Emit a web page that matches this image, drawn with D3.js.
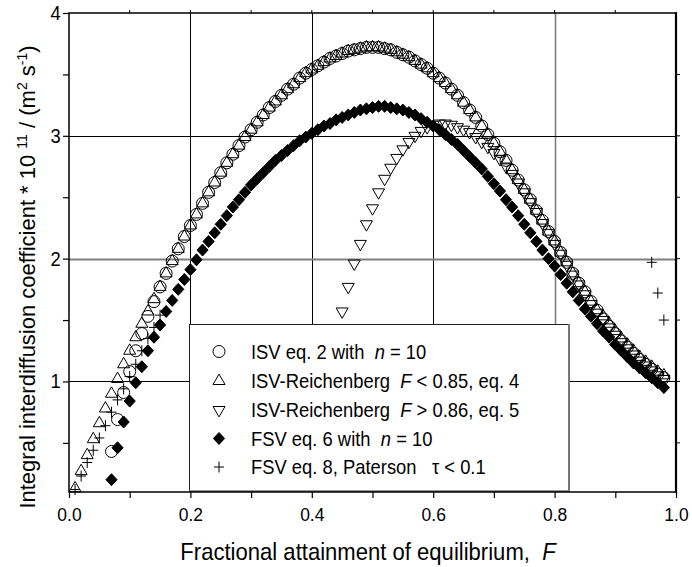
<!DOCTYPE html>
<html><head><meta charset="utf-8">
<script src="https://cdn.jsdelivr.net/npm/d3@7"></script>
<style>
body{margin:0;background:#fff}
svg{display:block}
text{font-family:"Liberation Sans",Arial,Helvetica,sans-serif;fill:#000;white-space:pre}
</style>
</head><body><svg id="c" width="692" height="567"></svg>
<script>
// ---------------- DATA ----------------
const F_GRID = [0.01,0.02,0.03,0.04,0.05,0.06,0.07,0.08,0.09,0.10,
 0.11,0.12,0.13,0.14,0.15,0.16,0.17,0.18,0.19,0.20,
 0.21,0.22,0.23,0.24,0.25,0.26,0.27,0.28,0.29,0.30,
 0.31,0.32,0.33,0.34,0.35,0.36,0.37,0.38,0.39,0.40,
 0.41,0.42,0.43,0.44,0.45,0.46,0.47,0.48,0.49,0.50,
 0.51,0.52,0.53,0.54,0.55,0.56,0.57,0.58,0.59,0.60,
 0.61,0.62,0.63,0.64,0.65,0.66,0.67,0.68,0.69,0.70,
 0.71,0.72,0.73,0.74,0.75,0.76,0.77,0.78,0.79,0.80,
 0.81,0.82,0.83,0.84,0.85,0.86,0.87,0.88,0.89,0.90,
 0.91,0.92,0.93,0.94,0.95,0.96,0.97,0.98];

// ISV eq. 2 with n = 10 (open circles), F = 0.07 .. 0.98
const isvEq2Start = 0.07;
const isvEq2 = [0.43,0.69,0.91,1.08,1.25,1.39,1.53,1.65,1.77,1.88,
 1.98,2.08,2.18,2.27,2.36,2.45,2.54,2.62,2.70,2.78,
 2.85,2.92,2.99,3.05,3.11,3.17,3.23,3.28,3.33,3.38,
 3.42,3.47,3.51,3.54,3.57,3.60,3.63,3.65,3.67,3.69,
 3.70,3.71,3.72,3.72,3.72,3.71,3.70,3.68,3.66,3.64,
 3.61,3.58,3.55,3.51,3.47,3.43,3.38,3.33,3.27,3.21,
 3.15,3.08,3.01,2.94,2.87,2.80,2.72,2.64,2.56,2.48,
 2.39,2.31,2.22,2.14,2.05,1.97,1.88,1.80,1.73,1.65,
 1.58,1.51,1.45,1.39,1.33,1.28,1.23,1.18,1.14,1.10,
 1.06,1.03];

// ISV-Reichenberg F < 0.85, eq. 4 (up triangles), F = 0.01 .. 0.98
const reichLowStart = 0.01;
const reichLow = [0.13,0.27,0.40,0.53,0.66,0.78,0.90,1.02,1.14,1.25,
 1.36,1.47,1.57,1.67,1.77,1.88,1.98,2.08,2.18,2.27,
 2.36,2.45,2.54,2.62,2.70,2.78,2.85,2.92,2.99,3.05,
 3.11,3.17,3.23,3.28,3.33,3.38,3.42,3.47,3.51,3.54,
 3.57,3.60,3.63,3.65,3.67,3.69,3.70,3.71,3.72,3.72,
 3.72,3.71,3.70,3.68,3.66,3.64,3.61,3.58,3.55,3.51,
 3.47,3.43,3.38,3.33,3.27,3.21,3.15,3.08,3.01,2.94,
 2.87,2.80,2.72,2.64,2.56,2.48,2.39,2.31,2.22,2.14,
 2.05,1.97,1.88,1.80,1.73,1.65,1.58,1.53,1.47,1.41,
 1.35,1.30,1.25,1.20,1.16,1.12,1.08,1.05];

// ISV-Reichenberg F > 0.86, eq. 5 (down triangles), F = 0.45 .. 0.98
const reichHighStart = 0.45;
const reichHigh = [1.57,1.77,1.96,2.12,2.28,2.41,2.54,2.65,2.74,2.82,
 2.89,2.95,3.00,3.04,3.07,3.09,3.10,3.10,3.09,3.07,
 3.05,3.03,2.99,2.95,2.91,2.86,2.81,2.75,2.69,2.62,
 2.54,2.46,2.38,2.29,2.21,2.12,2.04,1.95,1.87,1.79,
 1.71,1.63,1.56,1.50,1.44,1.38,1.32,1.27,1.22,1.17,
 1.13,1.09,1.05,1.02];

// FSV eq. 6 with n = 10 (filled diamonds), F = 0.07 .. 0.98
const fsvEq6Start = 0.07;
const fsvEq6 = [0.20,0.46,0.67,0.84,0.99,1.12,1.25,1.36,1.46,1.57,
 1.66,1.75,1.83,1.91,1.99,2.07,2.14,2.21,2.28,2.35,
 2.42,2.48,2.54,2.60,2.65,2.70,2.75,2.80,2.84,2.88,
 2.92,2.96,2.99,3.02,3.05,3.08,3.10,3.13,3.15,3.17,
 3.19,3.21,3.22,3.23,3.24,3.24,3.23,3.22,3.21,3.19,
 3.17,3.14,3.11,3.08,3.05,3.01,2.97,2.93,2.88,2.83,
 2.78,2.73,2.67,2.61,2.55,2.48,2.42,2.35,2.28,2.21,
 2.14,2.07,2.00,1.94,1.87,1.80,1.73,1.66,1.59,1.53,
 1.47,1.41,1.36,1.30,1.25,1.20,1.15,1.11,1.07,1.03,
 0.99,0.95];

// FSV eq. 8, Paterson tau < 0.1 (plus)
const patersonF = [0.01,0.02,0.03,0.04,0.05,0.06,0.07,0.08,0.09,0.10,0.11,0.12,0.13,0.14,0.15,0.96,0.97,0.98];
const patersonV = [0.12,0.23,0.34,0.44,0.54,0.64,0.75,0.85,0.94,1.04,1.14,1.25,1.35,1.44,1.54,1.97,1.72,1.50];

// axes
const xTicks = [0.0,0.1,0.2,0.3,0.4,0.5,0.6,0.7,0.8,0.9,1.0];
const xLabeled = [0.0,0.2,0.4,0.6,0.8,1.0];
const yTicks = [0.5,1,1.5,2,2.5,3,3.5,4];
const yLabeled = [1,2,3,4];
const xGrid = [0.2,0.4,0.6,0.8];
const yGrid = [1,2,3];
const legendLabels = [
 [["ISV eq. 2 with  ",false],["n",true],[" = 10",false]],
 [["ISV-Reichenberg  ",false],["F",true],[" < 0.85, eq. 4",false]],
 [["ISV-Reichenberg  ",false],["F",true],[" > 0.86, eq. 5",false]],
 [["FSV eq. 6 with  ",false],["n",true],[" = 10",false]],
 [["FSV eq. 8, Paterson   ",false],["\u03C4",false],[" < 0.1",false]]
];

// ---------------- DRAW ----------------
const svg = d3.select("#c");
const x = d3.scaleLinear().domain([0,1]).range([69,676]);
const y = d3.scaleLinear().domain([0.1,4]).range([492,13]);
const SX = 0.92; // horizontal condensation of text

function series(start, vals){
  const i0 = Math.round(start*100)-1;
  return vals.map((v,i)=>({f:F_GRID[i0+i], v}));
}

// grid
svg.append("g").selectAll("line").data(xGrid).join("line")
  .attr("x1",d=>Math.round(x(d))+0.5).attr("x2",d=>Math.round(x(d))+0.5)
  .attr("y1",y(4)).attr("y2",y(0.1))
  .attr("stroke",d=>d===0.8?"#7f7f7f":"#000").attr("stroke-width",d=>d===0.8?1.6:1);
svg.append("g").selectAll("line").data(yGrid).join("line")
  .attr("y1",d=>Math.round(y(d))+0.5).attr("y2",d=>Math.round(y(d))+0.5)
  .attr("x1",x(0)).attr("x2",x(1))
  .attr("stroke",d=>d===2?"#7f7f7f":"#000").attr("stroke-width",d=>d===2?2:1);

// symbols
const symCircle = "M6,0A6,6 0 1,1 -6,0A6,6 0 1,1 6,0Z";
const symUp = "M0,-6.9L6,3.5L-6,3.5Z";
const symDown = "M0,6.9L6,-3.5L-6,-3.5Z";
const symDiamond = "M0,-6L5.6,0L0,6L-5.6,0Z";
const symPlus = "M-5,0H5M0,-5.5V5.5";

const plot = svg.append("g");
function drawSeries(data, path, fill){
  plot.append("g").selectAll("path").data(data).join("path")
    .attr("transform",d=>`translate(${x(d.f)},${y(d.v)})`)
    .attr("d",path).attr("fill",fill).attr("stroke","#000").attr("stroke-width",1);
}
drawSeries(series(isvEq2Start,isvEq2), symCircle, "none");
drawSeries(series(reichLowStart,reichLow), symUp, "none");
drawSeries(series(reichHighStart,reichHigh), symDown, "none");
drawSeries(series(fsvEq6Start,fsvEq6), symDiamond, "#000");
drawSeries(patersonF.map((f,i)=>({f, v:patersonV[i]})), symPlus, "none");

// legend
const lg = svg.append("g");
lg.append("rect").attr("x",189.5).attr("y",324.5).attr("width",379).attr("height",167)
  .attr("fill","#fff").attr("stroke","#222").attr("stroke-width",1);
lg.append("line").attr("x1",569).attr("x2",569).attr("y1",324).attr("y2",492)
  .attr("stroke","#777").attr("stroke-width",2);
lg.append("line").attr("x1",189).attr("x2",570).attr("y1",491).attr("y2",491)
  .attr("stroke","#777").attr("stroke-width",1.5);
const legSyms = [[symCircle,"none"],[symUp,"none"],[symDown,"none"],[symDiamond,"#000"],[symPlus,"none"]];
const rowY = [351.5,381,410,438.5,467];
legendLabels.forEach((parts,i)=>{
  lg.append("path").attr("d",legSyms[i][0]).attr("fill",legSyms[i][1])
    .attr("stroke","#000").attr("stroke-width",1)
    .attr("transform",`translate(219,${rowY[i]})`);
  const t = lg.append("text").attr("transform",`translate(251,${rowY[i]+7}) scale(${SX},1)`)
    .attr("font-size",20);
  parts.forEach(p=>{
    const ts = t.append("tspan").text(p[0]);
    if(p[1]) ts.attr("font-style","italic");
  });
});

// frame
svg.append("rect").attr("x",x(0)).attr("y",y(4)).attr("width",x(1)-x(0)).attr("height",y(0.1)-y(4))
  .attr("fill","none").attr("stroke","#000").attr("stroke-width",1.5);
svg.append("line").attr("x1",x(1)).attr("x2",x(1)).attr("y1",y(4)-0.75).attr("y2",y(0.1)+0.75)
  .attr("stroke","#000").attr("stroke-width",2.2);

// bottom axis
const xa = svg.append("g").attr("transform",`translate(0,${y(0.1)})`)
  .call(d3.axisBottom(x).tickValues(xTicks).tickSize(6)
    .tickFormat(d=> xLabeled.some(v=>Math.abs(v-d)<1e-9) ? d.toFixed(1) : ""));
xa.select(".domain").remove();
xa.selectAll("line").attr("stroke","#000").attr("stroke-width",1.2);
xa.selectAll("text").attr("font-size",19).attr("font-family",null).attr("y",16).attr("dy","0.71em")
  .attr("transform",`scale(${SX},1)`).attr("fill","#000");

// left axis
const ya = svg.append("g").attr("transform",`translate(${x(0)},0)`)
  .call(d3.axisLeft(y).tickValues(yTicks).tickSize(6)
    .tickFormat(d=> yLabeled.includes(d) ? String(d) : ""));
ya.select(".domain").remove();
ya.selectAll("line").attr("stroke","#000").attr("stroke-width",1.2);
ya.selectAll("text").attr("font-size",20).attr("font-family",null).attr("x",-9)
  .attr("transform",`scale(${SX},1)`).attr("fill","#000");

// top and right minor ticks
svg.append("g").selectAll("line").data(xTicks.slice(1,-1)).join("line")
  .attr("x1",d=>x(d)).attr("x2",d=>x(d)).attr("y1",y(4)).attr("y2",y(4)-3)
  .attr("stroke","#000").attr("stroke-width",1);
svg.append("g").selectAll("line").data(yTicks.slice(0,-1)).join("line")
  .attr("y1",d=>y(d)).attr("y2",d=>y(d)).attr("x1",x(1)).attr("x2",x(1)+4)
  .attr("stroke","#000").attr("stroke-width",1);

// axis titles
const xt = svg.append("text").attr("transform",`translate(368,560) scale(${SX},1)`)
  .attr("text-anchor","middle").attr("font-size",24);
xt.append("tspan").text("Fractional attainment of equilibrium,  ");
xt.append("tspan").attr("font-style","italic").text("F");

const yt = svg.append("text").attr("transform","translate(35,277) rotate(-90)")
  .attr("text-anchor","middle").attr("font-size",22);
yt.append("tspan").text("Integral interdiffusion coefficient * 10 ");
yt.append("tspan").attr("font-size",14).attr("dy",-8).text("11");
yt.append("tspan").attr("dy",8).text(" / (m");
yt.append("tspan").attr("font-size",14).attr("dy",-8).text("2");
yt.append("tspan").attr("dy",8).text(" s");
yt.append("tspan").attr("font-size",14).attr("dy",-8).text("-1");
yt.append("tspan").attr("dy",8).text(")");
</script></body></html>
